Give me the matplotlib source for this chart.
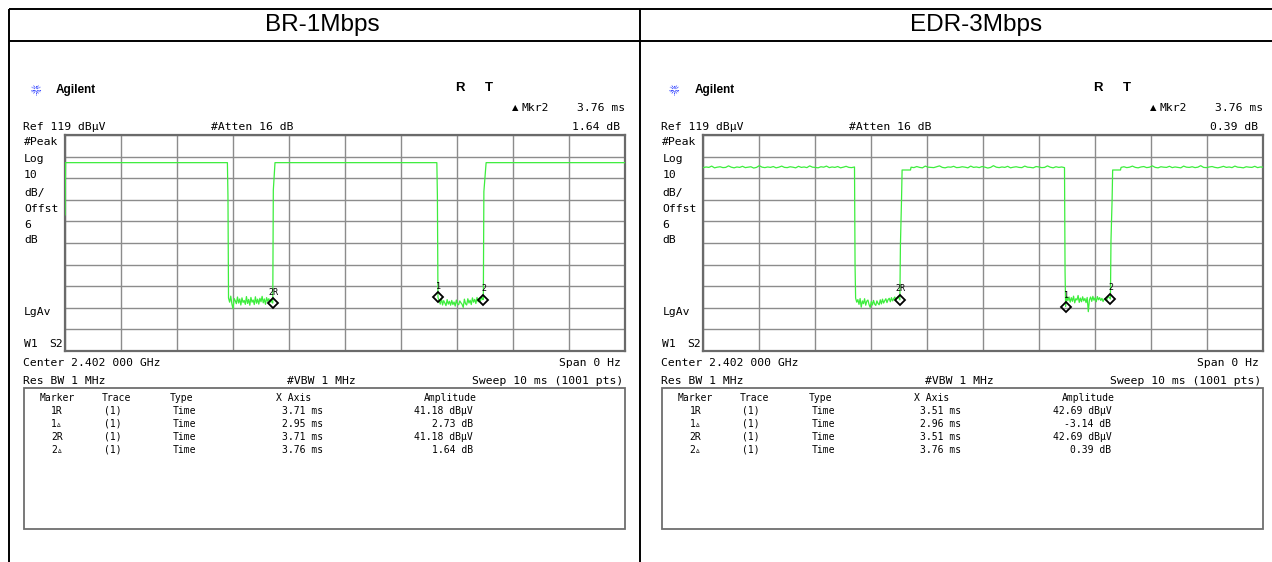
import numpy as np
import matplotlib
matplotlib.use("Agg")
import matplotlib.pyplot as plt

# ---------------- data ----------------
panel_titles = ["BR-1Mbps", "EDR-3Mbps"]
ref_level_dbuv = 119
atten_db = 16
scale_db_div = 10
offset_db = 6
center_freq = "2.402 000 GHz"
sweep_ms = 10
sweep_pts = 1001
res_bw = "1 MHz"
vbw = "1 MHz"

# BR-1Mbps trace (time in ms, level in dBuV)
br_edge_a_t = [0.00, 0.01, 2.90, 2.91]
br_edge_a_v = [82.0, 106.2, 106.2, 90.5]
br_noise1_span = [2.92, 3.70]
br_noise1 = [43.5, 41.6, 44.4, 40.8, 38.6, 43.3, 42.3, 40.9, 44.0, 41.2,
             43.1, 40.3, 43.6, 41.5, 42.4, 40.6, 44.2, 41.0, 42.9, 40.2,
             43.8, 41.6, 42.6, 40.5, 44.1, 41.1, 43.0, 40.7, 43.4, 41.8,
             44.3, 41.3, 43.1, 40.6, 43.7, 42.0, 43.2, 41.5, 42.8, 41.4]
br_edge_b_t = [3.71, 3.72, 3.75, 6.64, 6.65]
br_edge_b_v = [41.18, 93.5, 106.2, 106.2, 90.8]
br_noise2_span = [6.66, 7.46]
br_noise2 = [43.9, 42.3, 40.7, 43.4, 40.3, 42.3, 41.2, 40.0, 42.8, 40.7,
             42.0, 40.2, 42.4, 40.5, 41.7, 39.8, 42.6, 40.8, 40.4, 42.2,
             41.3, 40.6, 39.2, 43.0, 40.9, 40.3, 43.2, 41.2, 42.5, 40.5,
             43.6, 41.6, 42.9, 41.0, 43.8, 41.8, 43.3, 42.1, 44.0, 42.8]
br_edge_c_t = [7.47, 7.48, 7.52, 10.0]
br_edge_c_v = [42.82, 92.8, 106.2, 106.2]

# EDR-3Mbps trace
edr_top1_span = [0.00, 2.70]
edr_top1 = [103.9, 104.2, 104.0, 104.6, 103.8, 104.1, 104.3, 103.9, 104.0, 104.7,
            104.1, 103.8, 104.2, 104.0, 104.5, 103.9, 104.1, 104.3, 103.7, 104.0,
            104.8, 104.1, 103.9, 104.2, 104.0, 104.4, 103.8, 104.1, 104.6, 104.0,
            103.9, 104.3, 104.1, 103.8, 104.5, 104.0, 104.2, 103.9, 104.7, 104.1,
            104.0, 103.8, 104.3, 104.1, 104.6, 103.9, 104.2, 104.0, 104.4, 103.8,
            104.1, 104.5, 104.0, 103.9, 104.2]
edr_edge_a_t = [2.71]
edr_edge_a_v = [58.5]
edr_noise1_span = [2.72, 3.50]
edr_noise1 = [43.5, 41.6, 42.8, 40.6, 43.3, 39.3, 42.2, 40.9, 43.2, 40.2,
              42.1, 42.6, 40.5, 39.2, 41.9, 40.3, 42.4, 40.7, 40.1, 42.2,
              41.0, 40.4, 42.7, 40.8, 43.0, 41.2, 42.3, 43.2, 41.4, 42.8,
              43.4, 41.8, 43.7, 42.2, 43.2, 44.0, 42.5, 43.6, 44.2, 43.2]
edr_edge_b_t = [3.51, 3.52, 3.54, 3.55, 3.70]
edr_edge_b_v = [42.69, 68.0, 89.4, 102.8, 102.8]
edr_top2_span = [3.71, 6.45]
edr_top2 = [104.1, 103.9, 104.4, 104.0, 103.8, 104.6, 104.1, 104.0, 103.9, 104.3,
            104.7, 104.0, 103.8, 104.2, 104.1, 104.5, 103.9, 104.0, 104.3, 104.1,
            103.8, 104.6, 104.0, 104.2, 103.9, 104.4, 104.1, 103.7, 104.0, 104.8,
            104.1, 103.9, 104.2, 104.0, 104.5, 103.8, 104.1, 104.3, 104.0, 103.9,
            104.6, 104.1, 104.0, 103.8, 104.4, 104.2, 103.9, 104.0, 104.7, 104.1,
            103.8, 104.3, 104.0, 104.2, 103.9]
edr_edge_c_t = [6.46]
edr_edge_c_v = [55.7]
edr_noise2_span = [6.47, 7.26]
edr_noise2 = [39.6, 44.2, 42.3, 44.0, 41.6, 43.7, 42.0, 44.4, 41.3, 43.2,
              42.6, 44.7, 41.5, 43.5, 41.8, 44.1, 42.2, 43.3, 41.4, 43.8,
              37.2, 42.7, 44.0, 42.0, 44.3, 42.5, 43.6, 41.8, 44.2, 42.7,
              43.7, 42.4, 43.4, 41.9, 43.0, 43.2, 42.3, 43.6, 44.1, 43.6]
edr_edge_d_t = [7.27, 7.28, 7.30, 7.31, 7.45]
edr_edge_d_v = [43.08, 70.0, 89.0, 102.8, 102.8]
edr_top3_span = [7.46, 10.0]
edr_top3 = [104.0, 104.3, 103.9, 104.1, 104.6, 104.0, 103.8, 104.2, 104.4, 103.9,
            104.1, 104.7, 104.0, 103.8, 104.3, 104.1, 104.0, 104.5, 103.9, 104.2,
            104.0, 103.8, 104.6, 104.1, 104.0, 104.3, 103.9, 104.1, 104.8, 104.0,
            103.9, 104.2, 104.4, 104.0, 103.8, 104.1, 104.5, 104.0, 104.2, 103.9,
            104.6, 104.1, 104.0, 103.8, 104.3, 104.1, 104.0, 104.5, 103.9, 104.2,
            104.1]

# marker tables
mkr_names = ["1R", "1\u25b5", "2R", "2\u25b5"]
mkr_trace = ["(1)", "(1)", "(1)", "(1)"]
mkr_type = ["Time", "Time", "Time", "Time"]
mkr_units = ["dB\u00b5V", "dB", "dB\u00b5V", "dB"]
br_mkr_x_ms = [3.71, 2.95, 3.71, 3.76]
br_mkr_amp = [41.18, 2.73, 41.18, 1.64]
edr_mkr_x_ms = [3.51, 2.96, 3.51, 3.76]
edr_mkr_amp = [42.69, -3.14, 42.69, 0.39]

# ---------------- helpers ----------------
def assemble(pieces):
    ts, vs = [], []
    for kind, a, b in pieces:
        if kind == "pts":
            ts.extend(a); vs.extend(b)
        else:  # evenly sampled run: a = span, b = values
            ts.extend(np.linspace(a[0], a[1], len(b))); vs.extend(b)
    return np.array(ts), np.array(vs)

br_t, br_v = assemble([
    ("pts", br_edge_a_t, br_edge_a_v), ("run", br_noise1_span, br_noise1),
    ("pts", br_edge_b_t, br_edge_b_v), ("run", br_noise2_span, br_noise2),
    ("pts", br_edge_c_t, br_edge_c_v)])
edr_t, edr_v = assemble([
    ("run", edr_top1_span, edr_top1), ("pts", edr_edge_a_t, edr_edge_a_v),
    ("run", edr_noise1_span, edr_noise1), ("pts", edr_edge_b_t, edr_edge_b_v),
    ("run", edr_top2_span, edr_top2), ("pts", edr_edge_c_t, edr_edge_c_v),
    ("run", edr_noise2_span, edr_noise2), ("pts", edr_edge_d_t, edr_edge_d_v),
    ("run", edr_top3_span, edr_top3)])

W, H = 1272, 562
fig = plt.figure(figsize=(W / 100, H / 100), dpi=100)
bg = fig.add_axes([0, 0, 1, 1])
bg.set_xlim(0, W)
bg.set_ylim(H, 0)
bg.axis("off")

MONO = ["DejaVu Sans Mono", "DejaVu Sans"]
SANS = ["Liberation Sans", "DejaVu Sans"]

# table borders
for (x0, x1, y0, y1) in [(9, W, 9, 9), (9, W, 40.5, 40.5), (9, 9, 9, H), (640, 640, 9, H)]:
    bg.plot([x0, x1], [y0, y1], color="black", lw=1.4, solid_capstyle="butt")

title_cx = [322, 976]
for i, t in enumerate(panel_titles):
    bg.text(title_cx[i], 25, t, fontsize=17.5, family=SANS, ha="center", va="center")


def fmt_amp(v, u):
    return f"{v:.2f} {u}"


def draw_panel(dx, t, v, mx, ma):
    def T(x, y, s, size=8.2, ha="left", **kw):
        # y is the visual centre of capital letters; place by baseline
        bg.text(x + dx, y + 0.506 * size, s, fontsize=size, family=MONO,
                ha=ha, va="baseline", **kw)

    # Agilent logo
    cx, cy = 36 + dx, 89.5
    for k in range(12):
        ang = np.pi * k / 6
        bg.plot([cx + 1.5 * np.cos(ang), cx + 5 * np.cos(ang)],
                [cy + 1.5 * np.sin(ang), cy + 5 * np.sin(ang)],
                color="#3344ff", lw=0.7, ls=(0, (1, 0.6)))
    bg.text(56 + dx, 89.5, "Agilent", fontsize=8.5, family=SANS, weight="bold",
            ha="left", va="center")
    bg.text(460 + dx, 88, "R", fontsize=9.5, family=SANS, weight="bold", ha="center", va="center")
    bg.text(489 + dx, 88, "T", fontsize=9.5, family=SANS, weight="bold", ha="center", va="center")

    # active marker readout
    bg.text(515 + dx, 107.5, "\u25b2", fontsize=6, family=["DejaVu Sans"],
            ha="center", va="center")
    T(521, 106.5, "Mkr2")
    T(625, 106.5, f"{mx[3]:.2f} ms", ha="right")
    T(23, 126, f"Ref {ref_level_dbuv} dB\u00b5V")
    T(211, 126, f"#Atten {atten_db} dB")
    T(620, 126, f"{ma[3]:.2f} dB", ha="right")

    for y, s in [(140.5, "#Peak"), (157.5, "Log"), (174, str(scale_db_div)), (191.5, "dB/"),
                 (208, "Offst"), (224, str(offset_db)), (238.5, "dB"), (310.5, "LgAv")]:
        T(24, y, s)
    T(24, 343, "W1")
    T(49, 343, "S2")

    T(23, 361.5, f"Center {center_freq}")
    T(621, 361.5, "Span 0 Hz", ha="right")
    T(23, 380, f"Res BW {res_bw}")
    T(287, 380, f"#VBW {vbw}")
    T(623, 380, f"Sweep {sweep_ms} ms ({sweep_pts} pts)", ha="right")

    # marker table box
    bg.add_patch(plt.Rectangle((23.5 + dx, 388), 601, 141, fill=False,
                               ec="#6e6e6e", lw=1.3))
    T(57, 397, "Marker", size=7, ha="center")
    T(116, 397, "Trace", size=7, ha="center")
    T(170, 397, "Type", size=7)
    T(276, 397, "X Axis", size=7)
    T(424, 397, "Amplitude", size=7)
    for i, y in enumerate([410, 423, 436, 449]):
        T(57, y, mkr_names[i], size=7, ha="center")
        T(113, y, mkr_trace[i], size=7, ha="center")
        T(173, y, mkr_type[i], size=7)
        T(323, y, f"{mx[i]:.2f} ms", size=7, ha="right")
        T(473, y, fmt_amp(ma[i], mkr_units[i]), size=7, ha="right")

    # trace display
    ax = fig.add_axes([(65 + dx) / W, 1 - 351 / H, 560 / W, 216 / H])
    ax.set_xlim(0, sweep_ms)
    ax.set_ylim(ref_level_dbuv - 10 * scale_db_div, ref_level_dbuv)
    ax.set_xticks(np.arange(0, sweep_ms + 0.1, 1))
    ax.set_yticks(np.arange(ref_level_dbuv - 10 * scale_db_div, ref_level_dbuv + 1, scale_db_div))
    ax.tick_params(length=0, labelbottom=False, labelleft=False)
    ax.set_axisbelow(True)
    ax.grid(True, color="#8c8c8c", lw=1.0)
    for s in ax.spines.values():
        s.set_color("#6a6a6a")
        s.set_linewidth(1.6)
    ax.plot(t, v, color="#3ded3d", lw=0.9, zorder=3)

    ref_x, ref_a = mx[2], ma[2]
    pts = [("2R", ref_x, ref_a), ("1", ref_x + mx[1], ref_a + ma[1]),
           ("2", ref_x + mx[3], ref_a + ma[3])]
    for lab, x, y in pts:
        ax.plot([x], [y], marker="D", ms=5.5, mfc="none", mec="black", mew=1.3, zorder=4)
        ax.annotate(lab, (x, y), xytext=(1, 11), textcoords="offset pixels",
                    ha="center", va="center", fontsize=6, family=MONO, zorder=5)


draw_panel(0, br_t, br_v, br_mkr_x_ms, br_mkr_amp)
draw_panel(638.3, edr_t, edr_v, edr_mkr_x_ms, edr_mkr_amp)

fig.savefig("out.png", dpi=100)
